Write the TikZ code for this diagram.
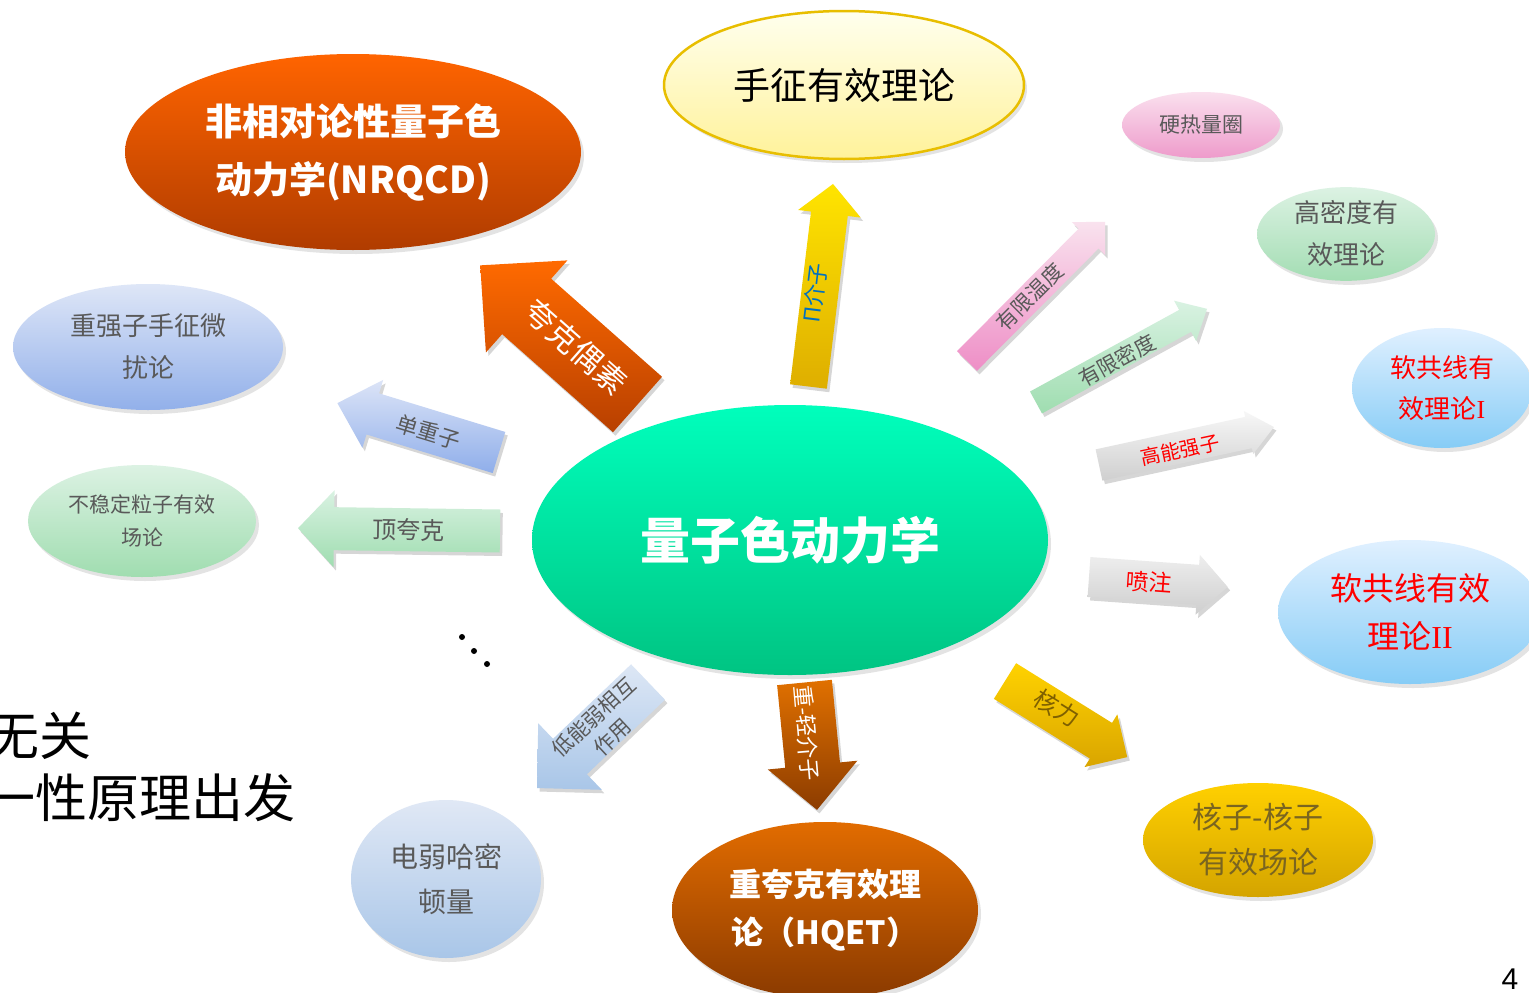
\documentclass[tikz,border=0pt]{standalone}
\usepackage{fontspec}
\setmainfont{Noto Sans CJK SC}
\newfontfamily\romfont{Liberation Serif}
\newfontfamily\arialfont{Liberation Sans}
\usetikzlibrary{shapes.geometric,shadows}

\definecolor{txgray}{HTML}{595959}
\definecolor{txred}{HTML}{FF0000}
\definecolor{txblue}{HTML}{0070C0}
\definecolor{txbrown}{HTML}{7F6000}

\newcommand\fs[1]{\fontsize{#1}{#1}\selectfont}
\newcommand\fsl[2]{\fontsize{#1}{#2}\selectfont}

% block arrow: #1 style, #2 tail centre, #3 angle, #4 length, #5 half body, #6 half head, #7 head length
\newcommand\blockarr[7]{%
  \begin{scope}[xshift=2.5pt,yshift=-3.5pt]
    \begin{scope}[shift={#2},rotate=#3]
      \fill[black,opacity=.16] (0,-#5) -- (#4-#7,-#5) -- (#4-#7,-#6) -- (#4,0) -- (#4-#7,#6) -- (#4-#7,#5) -- (0,#5) -- cycle;
    \end{scope}
  \end{scope}
  \begin{scope}[shift={#2},rotate=#3]
    \path[#1] (0,-#5) -- (#4-#7,-#5) -- (#4-#7,-#6) -- (#4,0) -- (#4-#7,#6) -- (#4-#7,#5) -- (0,#5) -- cycle;
  \end{scope}}

\tikzset{
  ell/.style={ellipse, inner sep=0pt, align=center,
    drop shadow={opacity=.22, shadow xshift=3pt, shadow yshift=-4pt}},
  alabel/.style={inner sep=0pt, align=center}
}

\begin{document}
\begin{tikzpicture}[x=1pt,y=-1pt]
\useasboundingbox (0,0) rectangle (1529,993);
\clip (0,0) rectangle (1529,993);
\fill[white] (0,0) rectangle (1529,993);

% ---------- block arrows ----------
\blockarr{top color={rgb,255:red,255;green,106;blue,0},bottom color={rgb,255:red,184;green,64;blue,0}}{(637.5,404.5)}{138.5}{210}{37}{61.5}{62}
\blockarr{top color={rgb,255:red,255;green,228;blue,0},bottom color={rgb,255:red,222;green,174;blue,0}}{(808.5,386.5)}{83.1}{204}{18.5}{31.5}{30}
\blockarr{top color={rgb,255:red,249;green,226;blue,238},bottom color={rgb,255:red,238;green,142;blue,198}}{(967,361)}{45.2}{196}{14}{23.5}{23.5}
\blockarr{top color={rgb,255:red,217;green,242;blue,226},bottom color={rgb,255:red,159;green,221;blue,176}}{(1036,402.5)}{28.7}{195}{12.5}{23}{25}
\blockarr{top color={rgb,255:red,247;green,247;blue,247},bottom color={rgb,255:red,207;green,207;blue,207}}{(1099,465)}{12.25}{179}{16}{22}{26}
\blockarr{top color={rgb,255:red,238;green,238;blue,238},bottom color={rgb,255:red,206;green,206;blue,206}}{(1089,577)}{-4.1}{139}{20}{30}{30}
\blockarr{top color={rgb,255:red,255;green,210;blue,0},bottom color={rgb,255:red,217;green,165;blue,0}}{(1005,681)}{-31.9}{144}{21}{31}{31}
\blockarr{top color={rgb,255:red,224;green,112;blue,0},bottom color={rgb,255:red,140;green,60;blue,0}}{(804.5,682.5)}{-84.4}{128}{27.5}{45}{45}
\blockarr{top color={rgb,255:red,221;green,231;blue,245},bottom color={rgb,255:red,169;green,198;blue,232}}{(648,682)}{-136.3}{153.5}{24.5}{46}{45.6}
\blockarr{top color={rgb,255:red,220;green,228;blue,247},bottom color={rgb,255:red,143;green,174;blue,234}}{(499,452.5)}{163}{169}{21.5}{35.5}{37}
\blockarr{top color={rgb,255:red,217;green,242;blue,226},bottom color={rgb,255:red,159;green,221;blue,176}}{(500,531)}{179.2}{202}{21.5}{38.5}{36}

% ---------- arrow labels ----------
\node[alabel, text=white, rotate=-41.5, font=\fs{31}] (lqq) at (576,347) {夸克偶素};
\node[alabel, text=txblue, rotate=83, font=\fs{22}] (lpi) at (815,293) {Π介子};
\node[alabel, text=txgray, rotate=45, font=\fs{21}] (lft) at (1030,297) {有限温度};
\node[alabel, text=txgray, rotate=28.7, font=\fs{21}] (lfd) at (1117,360) {有限密度};
\node[alabel, text=txred, rotate=12, font=\fs{20}] (lhe) at (1180,450) {高能强子};
\node[alabel, text=txred, rotate=-4, font=\fs{23}] (ljet) at (1149,582) {喷注};
\node[alabel, text=txbrown, rotate=-32, font=\fs{24}] (lnf) at (1057,708) {核力};
\node[alabel, text=white, rotate=-85, font=\fs{22}] (lhl) at (807,733) {重-轻介子};
\node[alabel, text=txgray, rotate=43, font=\fsl{21}{27}] (llw) at (603,727) {低能弱相互\\作用};
\node[alabel, text=txgray, rotate=-17, font=\fs{22}] (lsh) at (428,432) {单重子};
\node[alabel, text=txgray, rotate=-1, font=\fs{24}] (ltq) at (409,530) {顶夸克};

% ---------- ellipses ----------
\node[ell, minimum width=456pt, minimum height=196pt,
  top color={rgb,255:red,255;green,100;blue,0}, bottom color={rgb,255:red,176;green,60;blue,0},
  text=white, font=\fsl{37}{58}\bfseries] (nrqcd) at (353,152) {非相对论性量子色\\动力学(NRQCD)};

\node[ell, minimum width=360pt, minimum height=148pt, draw={rgb,255:red,232;green,190;blue,0}, line width=2.5pt,
  top color={rgb,255:red,255;green,255;blue,238}, bottom color={rgb,255:red,255;green,242;blue,154},
  text=black, font=\fs{37}] (chpt) at (844,85) {手征有效理论};

\node[ell, minimum width=158pt, minimum height=66pt,
  top color={rgb,255:red,250;green,224;blue,238}, bottom color={rgb,255:red,238;green,155;blue,203},
  text=txgray, font=\fs{21}] (htl) at (1201,125) {硬热量圈};

\node[ell, minimum width=178pt, minimum height=92pt,
  top color={rgb,255:red,220;green,242;blue,227}, bottom color={rgb,255:red,163;green,221;blue,179},
  text=txgray, font=\fsl{26}{42}] (hdet) at (1346,234) {高密度有\\效理论};

\node[ell, minimum width=180pt, minimum height=120pt,
  top color={rgb,255:red,224;green,240;blue,255}, bottom color={rgb,255:red,134;green,204;blue,246},
  text=txred, font=\fsl{26}{41}] (scet1) at (1442,388) {软共线有\\效理论{\romfont I}};

\node[ell, minimum width=264pt, minimum height=144pt,
  top color={rgb,255:red,224;green,240;blue,255}, bottom color={rgb,255:red,134;green,204;blue,246},
  text=txred, font=\fsl{32}{48}] (scet2) at (1410,612) {软共线有效\\理论{\romfont II}};

\node[ell, minimum width=230pt, minimum height=114pt,
  top color={rgb,255:red,255;green,208;blue,0}, bottom color={rgb,255:red,212;green,164;blue,0},
  text={rgb,255:red,122;green,101;blue,32}, font=\fsl{30}{45}] (nnet) at (1258,840) {核子-核子\\有效场论};

\node[ell, minimum width=306pt, minimum height=176pt,
  top color={rgb,255:red,226;green,108;blue,0}, bottom color={rgb,255:red,138;green,58;blue,0},
  text=white, font=\fsl{32}{48}\bfseries] (hqet) at (825,910) {重夸克有效理\\论（HQET）};

\node[ell, minimum width=190pt, minimum height=158pt,
  top color={rgb,255:red,224;green,232;blue,245}, bottom color={rgb,255:red,169;green,198;blue,232},
  text=txgray, font=\fsl{28}{45}] (ewh) at (446,879) {电弱哈密\\顿量};

\node[ell, minimum width=228pt, minimum height=112pt,
  top color={rgb,255:red,220;green,242;blue,227}, bottom color={rgb,255:red,160;green,221;blue,176},
  text=txgray, font=\fsl{21}{33}] (upet) at (142,521) {不稳定粒子有效\\场论};

\node[ell, minimum width=270pt, minimum height=126pt,
  top color={rgb,255:red,222;green,230;blue,247}, bottom color={rgb,255:red,146;green,176;blue,234},
  text=txgray, font=\fsl{26}{42}] (hhchpt) at (148,347) {重强子手征微\\扰论};

\node[ell, minimum width=516pt, minimum height=270pt,
  top color={rgb,255:red,0;green,255;blue,188}, bottom color={rgb,255:red,0;green,196;blue,130},
  text=white, font=\fs{50}\bfseries] (qcd) at (790,540) {量子色动力学};

% ---------- dots ----------
\fill[black] (462,637) circle (3) (474,651) circle (3) (487,664) circle (3);

% ---------- clipped text at left ----------
\node[anchor=east, inner sep=0pt, font=\fs{52}] (t1) at (92,736) {无关};
\node[anchor=east, inner sep=0pt, font=\fs{52}] (t2) at (296,798) {一性原理出发};

% ---------- page number ----------
\node[inner sep=0pt, font=\arialfont\fs{30}] (pg) at (1510,979) {4};
\end{tikzpicture}
\end{document}
